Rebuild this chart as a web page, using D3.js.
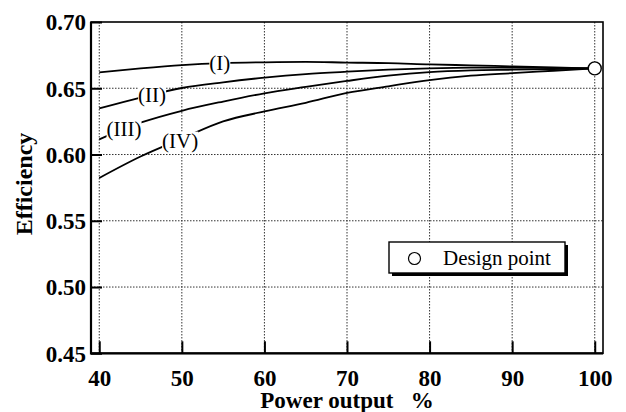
<!DOCTYPE html>
<html>
<head>
<meta charset="utf-8">
<script src="https://cdn.jsdelivr.net/npm/d3@7"></script>
</head>
<body style="margin:0; font-family: serif;">
<script>
var w = 626;
var h = 412;
var serif = "serif";

// data
var powerOutput = [40, 45, 50, 55, 60, 65, 70, 75, 80, 85, 90, 95, 100];
var effI   = [0.662, 0.665, 0.6675, 0.669, 0.6696, 0.6699, 0.6694, 0.669, 0.668, 0.6673, 0.6665, 0.6657, 0.665];
var effII  = [0.6348, 0.643, 0.6502, 0.6545, 0.658, 0.6607, 0.6625, 0.664, 0.665, 0.6655, 0.6655, 0.6652, 0.665];
var effIII = [0.6114, 0.624, 0.633, 0.640, 0.6462, 0.651, 0.6555, 0.6595, 0.6622, 0.6635, 0.664, 0.6645, 0.665];
var effIV  = [0.5823, 0.5985, 0.612, 0.625, 0.6325, 0.639, 0.6465, 0.6515, 0.6562, 0.6595, 0.6614, 0.6632, 0.665];
var curveNames = ["(I)", "(II)", "(III)", "(IV)"];
var designX = [100];
var designY = [0.665];
var xTicks = [40, 50, 60, 70, 80, 90, 100];
var yTicks = [0.45, 0.50, 0.55, 0.60, 0.65, 0.70];

var series = [effI, effII, effIII, effIV];

// label positions (in data units) where each curve is broken
var labelAt = [
    {x: 54.6, y: 0.669},
    {x: 46.4, y: 0.6445},
    {x: 43.0, y: 0.619},
    {x: 49.8, y: 0.6105}
];

var pLeft = 91, pRight = 603, pTop = 22, pBottom = 353.3;

var x = d3.scaleLinear().domain([39, 101]).range([pLeft, pRight]);
var y = d3.scaleLinear().domain([0.45, 0.70]).range([pBottom, pTop]);

var svg = d3.select("body")
    .append("svg")
    .attr("width", w)
    .attr("height", h)
    .attr("font-family", serif);

// grid
svg.append("g")
    .selectAll("line")
    .data(xTicks)
    .enter()
    .append("line")
    .attr("x1", function(d) { return x(d); })
    .attr("x2", function(d) { return x(d); })
    .attr("y1", pTop)
    .attr("y2", pBottom)
    .attr("stroke", "#333")
    .attr("stroke-width", 1)
    .attr("stroke-dasharray", "1.5,1.5");

svg.append("g")
    .selectAll("line")
    .data(yTicks.slice(1, -1))
    .enter()
    .append("line")
    .attr("x1", pLeft)
    .attr("x2", pRight)
    .attr("y1", function(d) { return y(d); })
    .attr("y2", function(d) { return y(d); })
    .attr("stroke", "#333")
    .attr("stroke-width", 1)
    .attr("stroke-dasharray", "1.5,1.5");

// axes with inward ticks
var xAxis = svg.append("g")
    .attr("transform", "translate(0," + pBottom + ")")
    .call(d3.axisBottom(x).tickValues(xTicks).tickSizeInner(-12).tickSizeOuter(0).tickPadding(16));

var yAxis = svg.append("g")
    .attr("transform", "translate(" + pLeft + ",0)")
    .call(d3.axisLeft(y).tickValues(yTicks).tickFormat(d3.format(".2f")).tickSizeInner(-11).tickSizeOuter(0).tickPadding(-3));

[xAxis, yAxis].forEach(function(g) {
    g.attr("font-family", serif).attr("font-size", 23);
    g.select(".domain").remove();
    g.selectAll("line").attr("stroke", "#000").attr("stroke-width", 2);
    g.selectAll("text")
        .attr("fill", "#000")
        .style("font", "bold 23px serif");
});
yAxis.selectAll("text").attr("dx", "-8px").attr("dy", "0.34em");
xAxis.selectAll("text").attr("dy", "0.72em");

// frame
svg.append("rect")
    .attr("x", pLeft)
    .attr("y", pTop)
    .attr("width", pRight - pLeft)
    .attr("height", pBottom - pTop)
    .attr("fill", "none")
    .attr("stroke", "#000")
    .attr("stroke-width", 1.6);
svg.append("path")
    .attr("d", "M" + pLeft + "," + pTop + "V" + pBottom + "H" + pRight)
    .attr("fill", "none")
    .attr("stroke", "#000")
    .attr("stroke-width", 2.2);

// curves
var line = d3.line()
    .x(function(d, i) { return x(powerOutput[i]); })
    .y(function(d) { return y(d); })
    .curve(d3.curveMonotoneX);

svg.append("g")
    .selectAll("path")
    .data(series)
    .enter()
    .append("path")
    .attr("d", line)
    .attr("fill", "none")
    .attr("stroke", "#000")
    .attr("stroke-width", 1.8);

// curve labels with white backing so the curve is broken
var labels = svg.append("g")
    .selectAll("g")
    .data(curveNames)
    .enter()
    .append("g");

labels.append("text")
    .attr("x", function(d, i) { return x(labelAt[i].x); })
    .attr("y", function(d, i) { return y(labelAt[i].y); })
    .attr("text-anchor", "middle")
    .attr("dy", "0.33em")
    .style("font", "21px serif")
    .attr("fill", "#000")
    .text(function(d) { return d; });

labels.each(function(d, i) {
    var g = d3.select(this);
    var tw = g.select("text").node().getComputedTextLength();
    g.insert("rect", "text")
        .attr("x", x(labelAt[i].x) - tw / 2)
        .attr("y", y(labelAt[i].y) - 9)
        .attr("width", tw)
        .attr("height", 18)
        .attr("fill", "#fff");
});

// design point
svg.append("g")
    .selectAll("circle")
    .data(designX)
    .enter()
    .append("circle")
    .attr("cx", function(d) { return x(d); })
    .attr("cy", function(d, i) { return y(designY[i]); })
    .attr("r", 6.5)
    .attr("fill", "#fff")
    .attr("stroke", "#000")
    .attr("stroke-width", 1.4);

// legend
var lg = svg.append("g").attr("transform", "translate(389,242)");
lg.append("rect")
    .attr("x", 3).attr("y", 3)
    .attr("width", 176).attr("height", 31)
    .attr("fill", "#000");
lg.append("rect")
    .attr("x", 0).attr("y", 0)
    .attr("width", 176).attr("height", 31)
    .attr("fill", "#fff")
    .attr("stroke", "#000")
    .attr("stroke-width", 1.4);
lg.append("circle")
    .attr("cx", 25.5).attr("cy", 16.5)
    .attr("r", 6)
    .attr("fill", "#fff")
    .attr("stroke", "#000")
    .attr("stroke-width", 1.2);
lg.append("text")
    .attr("x", 54).attr("y", 23)
    .style("font", "21px serif")
    .attr("fill", "#000")
    .text("Design point");

// axis titles
svg.append("text")
    .attr("x", (pLeft + pRight) / 2)
    .attr("y", 408)
    .attr("text-anchor", "middle")
    .style("font", "bold 23px serif")
    .style("white-space", "pre")
    .attr("fill", "#000")
    .text("Power output   %");

svg.append("text")
    .attr("transform", "translate(32,184) rotate(-90)")
    .attr("text-anchor", "middle")
    .style("font", "bold 24px serif")
    .attr("fill", "#000")
    .text("Efficiency");
</script>
</body>
</html>
